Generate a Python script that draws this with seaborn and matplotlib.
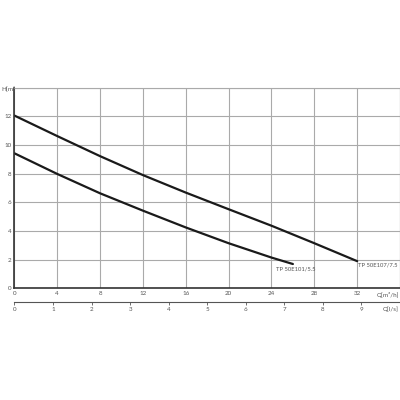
import matplotlib
matplotlib.use("Agg")
import matplotlib.pyplot as plt
import seaborn as sns
import pandas as pd

# pump curves, Q in m3/h, H in m
q_107 = [0, 4, 8, 12, 16, 20, 24, 28, 32]
h_107 = [12.05, 10.62, 9.22, 7.9, 6.68, 5.52, 4.37, 3.15, 1.9]
q_101 = [0, 4, 8, 12, 16, 20, 24, 26]
h_101 = [9.42, 7.98, 6.63, 5.42, 4.25, 3.15, 2.15, 1.7]
names = ["TP 50E107/7.5", "TP 50E101/5.5"]

x_ticks = [0, 4, 8, 12, 16, 20, 24, 28, 32]
y_ticks = [0, 2, 4, 6, 8, 10, 12]
ls_ticks = [0, 1, 2, 3, 4, 5, 6, 7, 8, 9]

df = pd.concat([
    pd.DataFrame({"Q": q_107, "H": h_107, "pump": names[0]}),
    pd.DataFrame({"Q": q_101, "H": h_101, "pump": names[1]}),
])

sns.set_style("white")
plt.rcParams['font.family'] = ['Lato', 'DejaVu Sans']
txt = "#555555"
fs = 4.5

fig = plt.figure(figsize=(4, 4), dpi=100)
ax = fig.add_axes([0.036, 0.279, 0.964, 0.502])

sns.lineplot(data=df, x="Q", y="H", hue="pump", palette=["#1a1a1a", "#1a1a1a"],
             linewidth=1.6, legend=False, ax=ax, sort=False)

ax.set_xlim(0, 36)
ax.set_ylim(0, 14)
ax.set_xticks(x_ticks + [36])
ax.set_xticklabels([str(v) for v in x_ticks] + [""])
ax.set_yticks(y_ticks + [14])
ax.set_yticklabels([str(v) for v in y_ticks] + [""])
ax.grid(True, color="#aaaaaa", linewidth=0.8)
ax.tick_params(length=0, pad=2, labelsize=fs, colors=txt)
ax.set_xlabel("")
ax.set_ylabel("")
for s in ["left", "bottom"]:
    ax.spines[s].set_color("#333333")
    ax.spines[s].set_linewidth(1.2)
for s in ["top", "right"]:
    ax.spines[s].set_color("#aaaaaa")
    ax.spines[s].set_linewidth(0.8)

fig.text(0.003, 0.777, "H[m]", fontsize=fs, color=txt, ha="left", va="center")
ax.text(35.9, -0.25, "Q[m³/h]", fontsize=fs, color=txt, ha="right", va="top")
ax.text(32.05, 1.65, names[0], fontsize=4.2, color=txt, ha="left", va="center")
ax.text(24.4, 1.35, names[1], fontsize=4.2, color=txt, ha="left", va="center")

sec = ax.secondary_xaxis(-0.067, functions=(lambda x: x / 3.6, lambda x: x * 3.6))
sec.set_xticks(ls_ticks)
sec.tick_params(length=2, width=0.6, pad=2, labelsize=fs, colors=txt)
sec.spines["bottom"].set_color("#555555")
sec.spines["bottom"].set_linewidth(0.8)
ax.text(35.9, -1.25, "Q[l/s]", fontsize=fs, color=txt, ha="right", va="top")

fig.savefig("out.png", dpi=100)
